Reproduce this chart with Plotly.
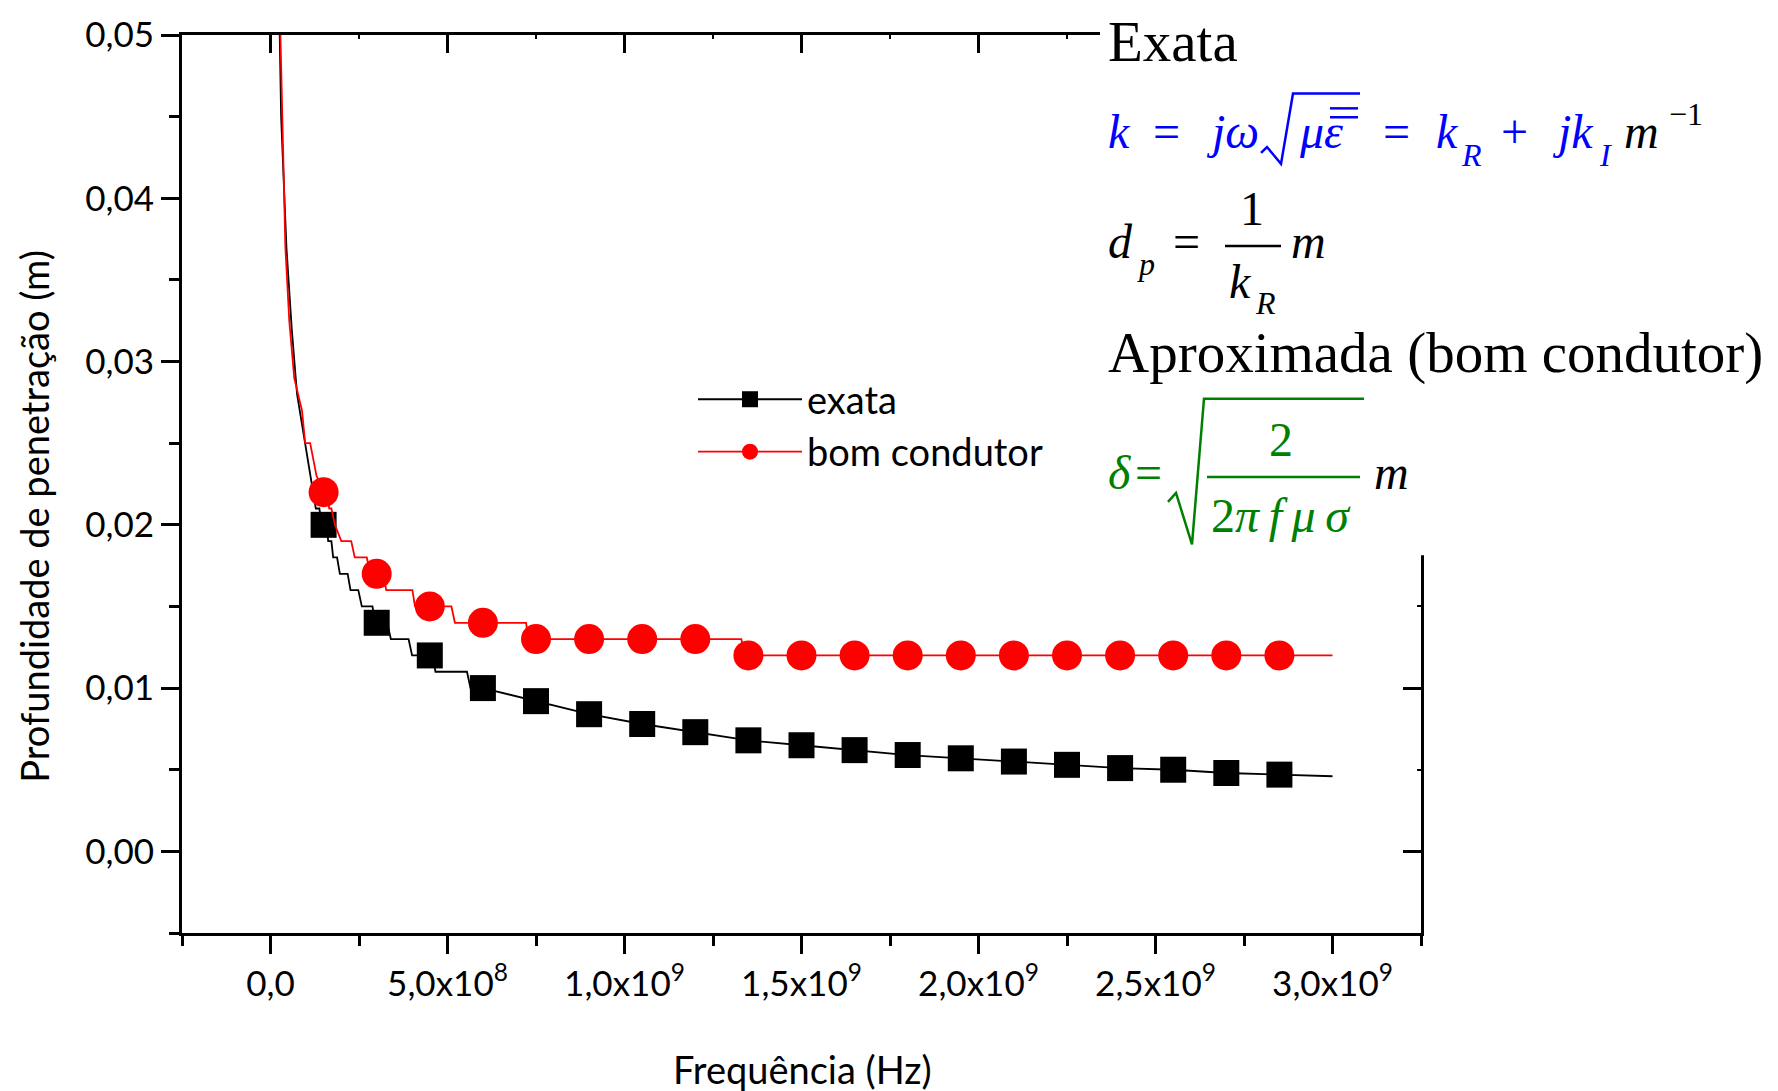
import plotly.graph_objects as go

# ---------------- data ----------------
freq_marks = [1.5e8, 3.0e8, 4.5e8, 6.0e8, 7.5e8, 9.0e8, 1.05e9, 1.2e9, 1.35e9, 1.5e9,
              1.65e9, 1.8e9, 1.95e9, 2.1e9, 2.25e9, 2.4e9, 2.55e9, 2.7e9, 2.85e9]
exata_marks = [0.0200, 0.0140, 0.0120, 0.0100, 0.0092, 0.0084, 0.0078, 0.0073, 0.0068, 0.0065,
               0.0062, 0.0059, 0.0057, 0.0055, 0.0053, 0.0051, 0.0050, 0.0048, 0.0047]
bom_marks = [0.022, 0.017, 0.015, 0.014, 0.013, 0.013, 0.013, 0.013, 0.012, 0.012,
             0.012, 0.012, 0.012, 0.012, 0.012, 0.012, 0.012, 0.012, 0.012]

exata_line_f = [2.6e7, 3.0e7, 4.5e7, 6.0e7, 7.5e7, 9.0e7, 1.05e8, 1.2e8, 1.28e8, 1.38e8,
                1.45e8, 1.58e8, 1.63e8, 1.72e8, 1.77e8, 1.88e8, 1.96e8, 2.18e8, 2.26e8, 2.48e8,
                2.58e8, 2.88e8, 2.96e8, 3.30e8, 3.40e8, 3.90e8, 4.00e8, 4.58e8, 4.66e8, 5.55e8,
                5.65e8, 6.0e8, 6.75e8, 7.5e8, 9.0e8, 1.05e9, 1.2e9, 1.35e9, 1.5e9, 1.65e9,
                1.8e9, 1.95e9, 2.1e9, 2.25e9, 2.4e9, 2.55e9, 2.7e9, 2.85e9, 3.0e9]
exata_line_d = [0.050, 0.045, 0.037, 0.032, 0.028, 0.026, 0.024, 0.022, 0.021, 0.021,
                0.020, 0.020, 0.019, 0.019, 0.018, 0.018, 0.017, 0.017, 0.016, 0.016,
                0.015, 0.015, 0.014, 0.014, 0.013, 0.013, 0.012, 0.012, 0.011, 0.011,
                0.010, 0.0100, 0.0096, 0.0092, 0.0084, 0.0078, 0.0073, 0.0068, 0.0065, 0.0062,
                0.0059, 0.0057, 0.0055, 0.0053, 0.0051, 0.0050, 0.0048, 0.0047, 0.0046]

bom_line_f = [2.8e7, 4.2e7, 5.3e7, 6.7e7, 8.9e7, 9.8e7, 1.12e8, 1.30e8, 1.50e8, 1.58e8,
              1.66e8, 1.72e8, 1.82e8, 2.00e8, 2.28e8, 2.38e8, 2.72e8, 2.82e8, 3.18e8, 3.27e8,
              4.01e8, 4.08e8, 5.11e8, 5.21e8, 7.22e8, 7.28e8, 1.33e9, 1.34e9, 3.0e9]
bom_line_d = [0.050, 0.037, 0.0325, 0.029, 0.027, 0.025, 0.025, 0.023, 0.022, 0.022,
              0.021, 0.021, 0.020, 0.019, 0.019, 0.018, 0.018, 0.017, 0.017, 0.016,
              0.016, 0.015, 0.015, 0.014, 0.014, 0.013, 0.013, 0.012, 0.012]

xtick_vals = [0, 5e8, 1e9, 1.5e9, 2e9, 2.5e9, 3e9]
xtick_text = ["0,0", "5,0x10<sup>8</sup>", "1,0x10<sup>9</sup>", "1,5x10<sup>9</sup>",
              "2,0x10<sup>9</sup>", "2,5x10<sup>9</sup>", "3,0x10<sup>9</sup>"]
x_range = [-2.5e8, 3.25e9]
y_range = [-0.005, 0.05]

# ---------------- geometry helpers (pixels -> paper) ----------------
FW, FH = 1778, 1091
L, R, T, B = 182, 1421, 27, 933
PW, PH = R - L, B - T


def px(x):
    return (x - L) / PW


def py(y):
    return (B - y) / PH


BLUE = "#0000FF"
GREEN = "#008000"
SERIF = "Liberation Serif"
SANS = "Lato"

fig = go.Figure()
fig.add_trace(go.Scatter(x=exata_line_f, y=exata_line_d, mode="lines",
                         line=dict(color="black", width=1.8), showlegend=False))
fig.add_trace(go.Scatter(x=freq_marks, y=exata_marks, mode="markers",
                         marker=dict(symbol="square", size=26, color="black", line=dict(width=0)),
                         showlegend=False))
fig.add_trace(go.Scatter(x=bom_line_f, y=bom_line_d, mode="lines",
                         line=dict(color="#FF0000", width=1.8), showlegend=False))
fig.add_trace(go.Scatter(x=freq_marks, y=bom_marks, mode="markers",
                         marker=dict(symbol="circle", size=30, color="#FF0000", line=dict(width=0)),
                         showlegend=False))
# legend entries
fig.add_trace(go.Scatter(x=[None], y=[None], mode="lines+markers", name="exata",
                         line=dict(color="black", width=1.8),
                         marker=dict(symbol="square", size=26, color="black"),
                         xaxis="x2", yaxis="y2", legendgroup="a"))
fig.add_trace(go.Scatter(x=[None], y=[None], mode="lines+markers", name="bom condutor",
                         line=dict(color="#FF0000", width=1.8),
                         marker=dict(symbol="circle", size=30, color="#FF0000"),
                         xaxis="x2", yaxis="y2", legendgroup="b"))

tickfont = dict(family=SANS, size=35, color="black")
common = dict(showline=True, linecolor="black", linewidth=3, showgrid=False, zeroline=False,
              tickcolor="black", tickwidth=3, ticklen=18)

fig.update_layout(
    width=FW, height=FH,
    margin=dict(l=L, r=FW - R, t=T, b=FH - B, pad=0),
    paper_bgcolor="white", plot_bgcolor="white",
    separators=", ",
    xaxis=dict(range=x_range, ticks="outside", tickmode="array", tickvals=xtick_vals,
               ticktext=xtick_text, tickfont=tickfont,
               minor=dict(ticks="outside", ticklen=10, tickwidth=3, tickcolor="black",
                          tickmode="linear", tick0=0, dtick=2.5e8, showgrid=False),
               **common),
    xaxis2=dict(range=x_range, overlaying="x", side="top", ticks="inside", tickmode="array",
                tickvals=xtick_vals, showticklabels=False,
                minor=dict(ticks="inside", ticklen=4, tickwidth=2, tickcolor="black",
                           tickmode="linear", tick0=0, dtick=2.5e8, showgrid=False),
                **common),
    yaxis=dict(range=y_range, ticks="outside", tickmode="linear", tick0=0, dtick=0.01,
               tickformat=".2f", tickfont=tickfont,
               minor=dict(ticks="outside", ticklen=10, tickwidth=3, tickcolor="black",
                          tickmode="linear", tick0=0, dtick=0.005, showgrid=False),
               **common),
    yaxis2=dict(range=y_range, overlaying="y", side="right", ticks="inside", tickmode="linear",
                tick0=0, dtick=0.01, showticklabels=False,
                minor=dict(ticks="inside", ticklen=4, tickwidth=2, tickcolor="black",
                           tickmode="linear", tick0=0, dtick=0.005, showgrid=False),
                **common),
    legend=dict(x=px(693), y=py(363), xanchor="left", yanchor="top",
                font=dict(family=SANS, size=38, color="black"),
                bgcolor="rgba(0,0,0,0)", itemwidth=104, tracegroupgap=9,
                traceorder="normal"),
    showlegend=True,
)

anns = []


def txt(text, x, base, size, color="black", anchor="left", family=SERIF, k=0.3375):
    anns.append(dict(text=text, x=px(x - 2), y=py(base - 2 - k * size), xref="paper",
                     yref="paper", xanchor=anchor, yanchor="middle", showarrow=False,
                     borderpad=0, font=dict(family=family, size=size, color=color)))


# axis titles
anns.append(dict(text="Frequência (Hz)", x=px(802), y=py(1070), xref="paper", yref="paper",
                 xanchor="center", yanchor="middle", showarrow=False,
                 font=dict(family=SANS, size=38, color="black")))
anns.append(dict(text="Profundidade de penetração (m)", x=px(34), y=py(513), xref="paper",
                 yref="paper", xanchor="center", yanchor="middle", showarrow=False,
                 textangle=-90, font=dict(family=SANS, size=38, color="black")))

# right-hand text block
txt("Exata", 1109, 55, 57)
# k = jw sqrt(mu eps) = kR + j kI m^-1
txt("<i>k</i>", 1109, 143, 48, BLUE)
txt("=", 1168, 143, 48, BLUE, anchor="center")
txt("<i>jω</i>", 1207, 143, 48, BLUE)
txt("<i>με</i>", 1300, 143, 48, BLUE)
txt("=", 1398, 143, 48, BLUE, anchor="center")
txt("<i>k</i>", 1437, 143, 48, BLUE)
txt("<i>R</i>", 1462, 161, 32, BLUE)
txt("+", 1517, 143, 48, BLUE, anchor="center")
txt("<i>jk</i>", 1553, 143, 48, BLUE)
txt("<i>I</i>", 1600, 161, 32, BLUE)
txt("<i>m</i>", 1625, 143, 48)
txt("−1", 1670, 120, 32)
# d_p = 1/kR m
txt("<i>d</i>", 1109, 254, 48)
txt("<i>p</i>", 1138, 271, 32)
txt("=", 1188, 254, 48, anchor="center")
txt("1", 1254, 220, 48, anchor="center")
txt("<i>k</i>", 1230, 294, 48)
txt("<i>R</i>", 1256, 310, 32)
txt("<i>m</i>", 1292, 254, 48)
txt("Aproximada (bom condutor)", 1109, 369, 57)
# delta = sqrt(2/(2 pi f mu sigma)) m
txt("<i>δ</i>", 1109, 487, 48, GREEN)
txt("=", 1150, 487, 48, GREEN, anchor="center")
txt("2", 1283, 453, 48, GREEN, anchor="center")
txt("2<i>π</i>\u2009<i>f</i>\u2009<i>μ</i>\u2009<i>σ</i>", 1283, 530, 48, GREEN, anchor="center")
txt("<i>m</i>", 1375, 487, 48)

shapes = []
# white box behind the text block (hides the frame there)
shapes.append(dict(type="rect", xref="paper", yref="paper", x0=px(1100), x1=px(1800),
                   y0=py(552), y1=py(-20), fillcolor="white", line=dict(width=0), layer="above"))


def path(points, color, width):
    d = "M " + " L ".join(f"{px(a):.5f},{py(b):.5f}" for a, b in points)
    shapes.append(dict(type="path", xref="paper", yref="paper", path=d,
                       line=dict(color=color, width=width), layer="above"))


def hline(x0, x1, y, color, width):
    shapes.append(dict(type="line", xref="paper", yref="paper", x0=px(x0), x1=px(x1),
                       y0=py(y), y1=py(y), line=dict(color=color, width=width), layer="above"))


path([(1261, 146), (1267, 140), (1281, 157), (1293, 86), (1360, 86)], BLUE, 2.5)
hline(1330, 1358, 101, BLUE, 2.5)
hline(1330, 1358, 110, BLUE, 2.5)
hline(1225, 1281, 240, "black", 2.5)
path([(1168, 498), (1176, 489), (1192, 541), (1204, 394), (1364, 394)], GREEN, 2.5)
hline(1207, 1360, 473, GREEN, 2.5)

fig.update_layout(annotations=anns, shapes=shapes)

fig.write_html("out.html", config={"displayModeBar": False},
               post_script="document.body.style.margin='0';")
